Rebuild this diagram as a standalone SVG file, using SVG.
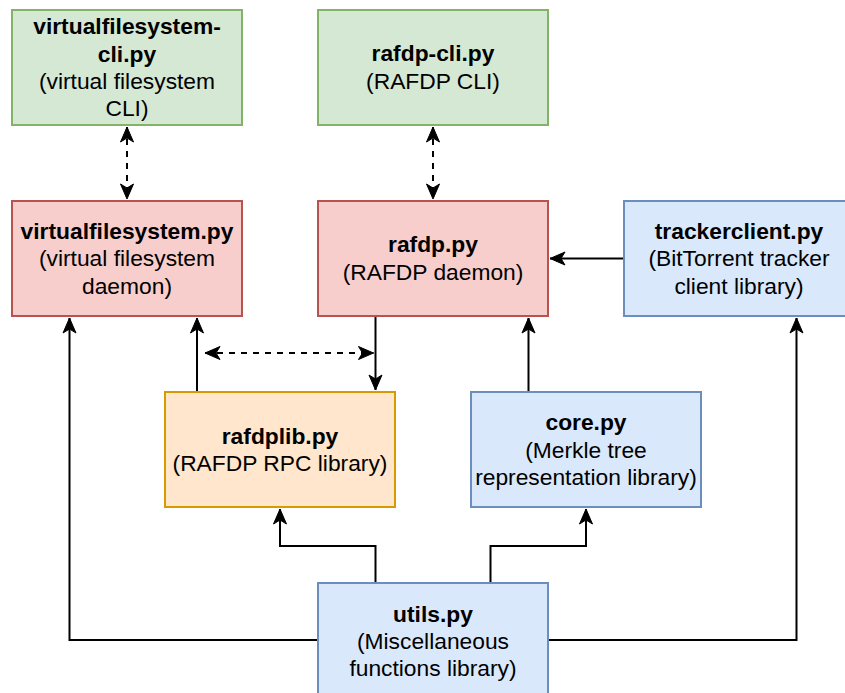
<svg xmlns="http://www.w3.org/2000/svg" width="845" height="693" viewBox="0 0 845 693">
<style>
  .box{stroke-width:2}
  .green{fill:#d5e8d4;stroke:#82b366}
  .red{fill:#f8cecc;stroke:#b85450}
  .blue{fill:#dae8fc;stroke:#6c8ebf}
  .orange{fill:#ffe6cc;stroke:#d79b00}
  text{font-family:"Liberation Sans",Arial,Helvetica,sans-serif;font-size:22.8px;fill:#000;text-anchor:middle}
  .b{font-weight:bold}
  .edge{fill:none;stroke:#000;stroke-width:2}
  .dash{stroke-dasharray:6 6}
</style>
<defs>
  <marker id="arrow" viewBox="-17 -8 18 16" refX="0" refY="0" markerWidth="18" markerHeight="16" markerUnits="userSpaceOnUse" orient="auto-start-reverse">
    <path d="M0,0 L-15,-6.5 L-11,0 L-15,6.5 Z" fill="#000" stroke="#000" stroke-width="1"/>
  </marker>
</defs>
<g id="connectors">
  <path class="edge dash" d="M127,127 V199" marker-start="url(#arrow)" marker-end="url(#arrow)"/>
  <path class="edge dash" d="M433,127 V199" marker-start="url(#arrow)" marker-end="url(#arrow)"/>
  <path class="edge" d="M624,258.5 H550" marker-end="url(#arrow)"/>
  <path class="edge" d="M375.5,316 V390" marker-end="url(#arrow)"/>
  <path class="edge" d="M197,392 V318" marker-end="url(#arrow)"/>
  <path class="edge dash" d="M205,353 H373.5" marker-start="url(#arrow)" marker-end="url(#arrow)"/>
  <path class="edge" d="M528.5,392 V318" marker-end="url(#arrow)"/>
  <path class="edge" d="M375.5,583 V546 H280 V509" marker-end="url(#arrow)"/>
  <path class="edge" d="M490.5,583 V546 H586 V509" marker-end="url(#arrow)"/>
  <path class="edge" d="M318,640 H69.5 V318" marker-end="url(#arrow)"/>
  <path class="edge" d="M548,640 H796.5 V318" marker-end="url(#arrow)"/>
</g>
<g id="vfs-cli">
  <rect class="box green" x="12" y="10" width="230" height="115"/>
  <text x="127" y="34" class="b">virtualfilesystem-</text>
  <text x="127" y="61.5" class="b">cli.py</text>
  <text x="127" y="89">(virtual filesystem</text>
  <text x="127" y="116">CLI)</text>
</g>
<g id="rafdp-cli">
  <rect class="box green" x="318" y="10" width="230" height="115"/>
  <text x="433" y="61" class="b">rafdp-cli.py</text>
  <text x="433" y="88.5">(RAFDP CLI)</text>
</g>
<g id="vfs">
  <rect class="box red" x="12" y="201" width="230" height="115"/>
  <text x="127" y="239" class="b">virtualfilesystem.py</text>
  <text x="127" y="266">(virtual filesystem</text>
  <text x="127" y="293.5">daemon)</text>
</g>
<g id="rafdp">
  <rect class="box red" x="318" y="201" width="230" height="115"/>
  <text x="433" y="252" class="b">rafdp.py</text>
  <text x="433" y="279.5">(RAFDP daemon)</text>
</g>
<g id="trackerclient">
  <rect class="box blue" x="624" y="201" width="230" height="115"/>
  <text x="739" y="239" class="b">trackerclient.py</text>
  <text x="739" y="266">(BitTorrent tracker</text>
  <text x="739" y="293.5">client library)</text>
</g>
<g id="rafdplib">
  <rect class="box orange" x="165" y="392" width="230" height="115"/>
  <text x="280" y="443.5" class="b">rafdplib.py</text>
  <text x="280" y="471">(RAFDP RPC library)</text>
</g>
<g id="core">
  <rect class="box blue" x="471" y="392" width="230" height="115"/>
  <text x="586" y="430" class="b">core.py</text>
  <text x="586" y="457.5">(Merkle tree</text>
  <text x="586" y="484.5">representation library)</text>
</g>
<g id="utils">
  <rect class="box blue" x="318" y="583" width="230" height="115"/>
  <text x="433" y="621.5" class="b">utils.py</text>
  <text x="433" y="648.5">(Miscellaneous</text>
  <text x="433" y="675.5">functions library)</text>
</g>
</svg>
